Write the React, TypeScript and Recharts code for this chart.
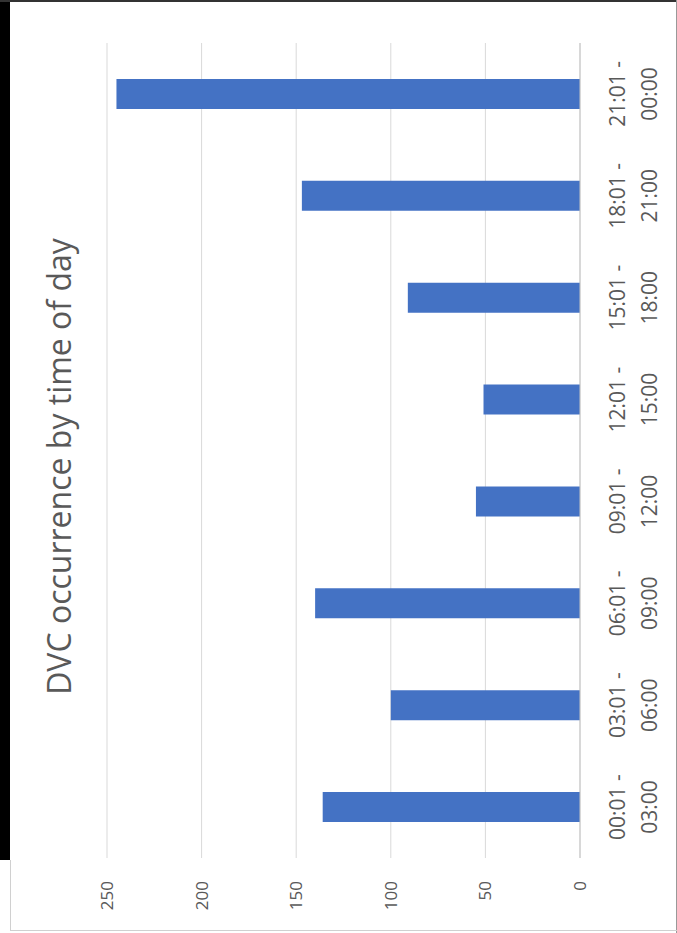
import React from 'react';
import { BarChart, Bar, XAxis, YAxis, CartesianGrid } from 'recharts';

const rangeStarts = ['00:01 -', '03:01 -', '06:01 -', '09:01 -', '12:01 -', '15:01 -', '18:01 -', '21:01 -'];
const rangeEnds = ['03:00', '06:00', '09:00', '12:00', '15:00', '18:00', '21:00', '00:00'];
const occurrences = [136, 100, 140, 55, 51, 91, 147, 245];
const valueTicks = [0, 50, 100, 150, 200, 250];
const titleText = 'DVC occurrence by time of day';

const data = rangeStarts.map((s, i) => ({ key: s + ' ' + rangeEnds[i], start: s, end: rangeEnds[i], value: occurrences[i] }));

const FONT = '"Open Sans", "Noto Sans", sans-serif';
const TEXT = '#595959';
const W = 929;
const H = 666;

const CategoryTick = (props: any) => {
  const { x, y, payload } = props;
  const d = data[payload.index] || data.find((r) => r.key === payload.value);
  return (
    <g>
      <text x={x} y={y + 45} textAnchor="middle" fill={TEXT} fontSize={21} fontFamily={FONT}>
        {d ? d.start : ''}
      </text>
      <text x={x} y={y + 77} textAnchor="middle" fill={TEXT} fontSize={21} fontFamily={FONT}>
        {d ? d.end : ''}
      </text>
    </g>
  );
};

export default function App() {
  return (
    <div style={{ position: 'absolute', left: 0, top: 0, width: 677, height: 933, background: '#fff', overflow: 'hidden', fontFamily: FONT }}>
      <div style={{ position: 'absolute', left: 0, top: 0, width: 10, height: 860, background: '#000' }} />
      <div style={{ position: 'absolute', left: 0, top: 0, width: 677, height: 2, background: '#333' }} />
      <div style={{ position: 'absolute', left: 676, top: 0, width: 1, height: 933, background: '#999' }} />
      <div style={{ position: 'absolute', left: 10, top: 930, width: 667, height: 1, background: '#d0d0d0' }} />
      <div style={{ position: 'absolute', left: 10, top: 860, width: 1, height: 71, background: '#d0d0d0' }} />
      <div
        style={{
          position: 'absolute',
          left: 10,
          top: 931,
          width: W,
          height: H,
          transformOrigin: '0 0',
          transform: 'rotate(-90deg)',
        }}
      >
        <div
          style={{
            position: 'absolute',
            left: 0,
            top: 29,
            width: W,
            height: 40,
            lineHeight: '40px',
            textAlign: 'center',
            fontSize: 32,
            fontWeight: 500,
            color: TEXT,
            fontFamily: FONT,
          }}
        >
          {titleText}
        </div>
        <BarChart width={W} height={H} data={data} margin={{ top: 97, right: 41, bottom: 36, left: 13 }}>
          <CartesianGrid vertical={false} stroke="#d9d9d9" />
          <XAxis
            dataKey="key"
            height={60}
            interval={0}
            tickLine={false}
            tickSize={0}
            tickMargin={0}
            axisLine={{ stroke: '#c4c4c4' }}
            tick={<CategoryTick />}
          />
          <YAxis
            width={60}
            domain={[0, 250]}
            ticks={valueTicks}
            axisLine={false}
            tickLine={false}
            tickSize={0}
            tickMargin={23}
            tick={{ fill: TEXT, fontSize: 17, fontFamily: FONT }}
          />
          <Bar dataKey="value" fill="#4472C4" barSize={30} isAnimationActive={false} />
        </BarChart>
      </div>
    </div>
  );
}
